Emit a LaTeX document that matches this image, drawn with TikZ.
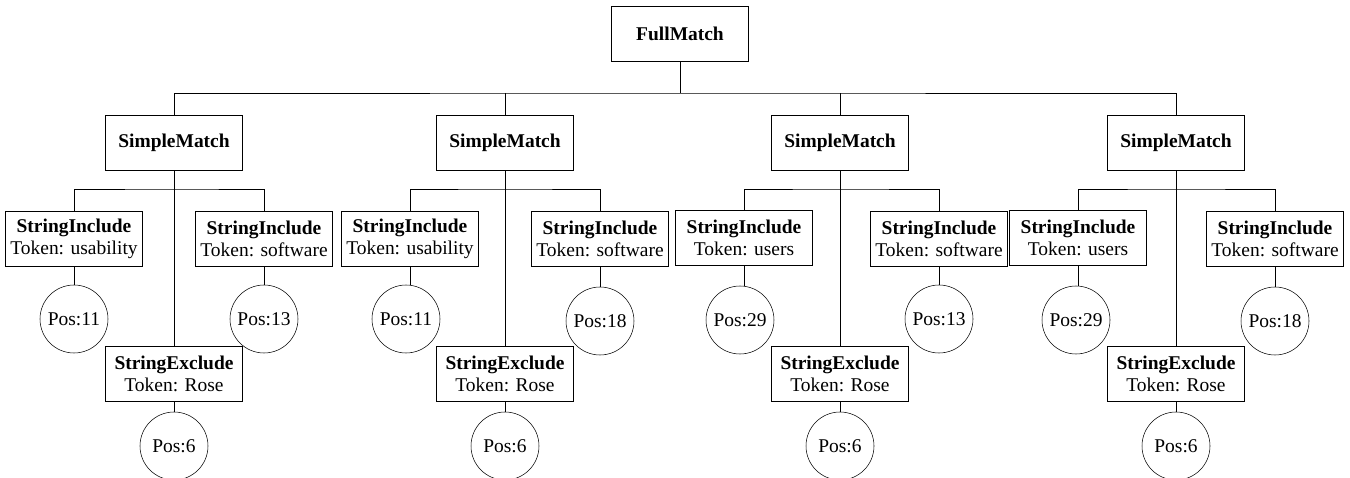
\documentclass[tikz,border=0pt]{standalone}
\usepackage{fontspec}
\setmainfont{Liberation Serif}
\usetikzlibrary{positioning}
\tikzset{
    matchbox/.style = {rectangle, draw=black, align=center, minimum width=102.75pt, minimum height=41.25pt, inner sep=1pt, font=\fontsize{14.6}{16.5}\selectfont},
    posnode/.style = {circle, draw=black, align=center, minimum size=51pt, inner sep=0pt, font=\fontsize{14.6}{16.5}\selectfont},
    edgen/.style = {draw=black, line width=0.6pt},
}

\begin{document}
\begin{tikzpicture}[x=0.75pt,y=-0.75pt]
\useasboundingbox (0,0) rectangle (1350,478);

\node[matchbox] (full) at ( 680, 34) {\textbf{FullMatch}};

\node[matchbox] (sm1) at ( 174,143) {\textbf{SimpleMatch}};
\node[matchbox] (sm2) at ( 505,143) {\textbf{SimpleMatch}};
\node[matchbox] (sm3) at ( 840,143) {\textbf{SimpleMatch}};
\node[matchbox] (sm4) at (1176,143) {\textbf{SimpleMatch}};

% first group
\node[matchbox] (si1l) at (  74,238.5) {\textbf{StringInclude}\\Token: usability};
\node[matchbox] (si1r) at ( 264,238.5) {\textbf{StringInclude}\\Token: software};
\node[matchbox] (se1)  at ( 174,374)   {\textbf{StringExclude}\\Token: Rose};
\node[posnode]  (p1l)  at (  74,319)   {Pos:11};
\node[posnode]  (p1r)  at ( 264,319)   {Pos:13};
\node[posnode]  (p1s)  at ( 174,446)   {Pos:6};

% second group
\node[matchbox] (si2l) at ( 410,238.5) {\textbf{StringInclude}\\Token: usability};
\node[matchbox] (si2r) at ( 600,238.5) {\textbf{StringInclude}\\Token: software};
\node[matchbox] (se2)  at ( 505,374)   {\textbf{StringExclude}\\Token: Rose};
\node[posnode]  (p2l)  at ( 406,319)   {Pos:11};
\node[posnode]  (p2r)  at ( 600,321)   {Pos:18};
\node[posnode]  (p2s)  at ( 505,446)   {Pos:6};

% third group
\node[matchbox] (si3l) at ( 744,238)   {\textbf{StringInclude}\\Token: users};
\node[matchbox] (si3r) at ( 939,238.5) {\textbf{StringInclude}\\Token: software};
\node[matchbox] (se3)  at ( 840,374)   {\textbf{StringExclude}\\Token: Rose};
\node[posnode]  (p3l)  at ( 740,320)   {Pos:29};
\node[posnode]  (p3r)  at ( 939,319)   {Pos:13};
\node[posnode]  (p3s)  at ( 840,446)   {Pos:6};

% fourth group
\node[matchbox] (si4l) at (1078,238)   {\textbf{StringInclude}\\Token: users};
\node[matchbox] (si4r) at (1275,239)   {\textbf{StringInclude}\\Token: software};
\node[matchbox] (se4)  at (1176,374)   {\textbf{StringExclude}\\Token: Rose};
\node[posnode]  (p4l)  at (1076,320)   {Pos:29};
\node[posnode]  (p4r)  at (1275,321)   {Pos:18};
\node[posnode]  (p4s)  at (1176,446)   {Pos:6};

\coordinate (top) at (680,93);
\draw[edgen] (full.south) -- (top);
\draw[edgen] (sm1.north) |- (top) -| (sm4.north);
\draw[edgen] (sm2.north) -- (sm2.north |- top);
\draw[edgen] (sm3.north) -- (sm3.north |- top);

\coordinate (b1) at ( 174,189);
\coordinate (b2) at ( 505,189);
\coordinate (b3) at ( 840,189);
\coordinate (b4) at (1176,189);

\draw[edgen] (si1l.north) |- (b1) -| (si1r.north);
\draw[edgen] (si2l.north) |- (b2) -| (si2r.north);
\draw[edgen] (si3l.north) |- (b3) -| (si3r.north);
\draw[edgen] (si4l.north) |- (b4) -| (si4r.north);

\draw[edgen] (sm1.south) -- (se1.north);
\draw[edgen] (sm2.south) -- (se2.north);
\draw[edgen] (sm3.south) -- (se3.north);
\draw[edgen] (sm4.south) -- (se4.north);

\draw[edgen] (si1l.south) -- (si1l.south |- p1l.north);
\draw[edgen] (si1r) -- (p1r);
\draw[edgen] (se1) -- (p1s);
\draw[edgen] (si2l.south) -- (si2l.south |- p2l.north);
\draw[edgen] (si2r) -- (p2r);
\draw[edgen] (se2) -- (p2s);
\draw[edgen] (si3l.south) -- (si3l.south |- p3l.north);
\draw[edgen] (si3r) -- (p3r);
\draw[edgen] (se3) -- (p3s);
\draw[edgen] (si4l.south) -- (si4l.south |- p4l.north);
\draw[edgen] (si4r) -- (p4r);
\draw[edgen] (se4) -- (p4s);

\end{tikzpicture}
\end{document}
